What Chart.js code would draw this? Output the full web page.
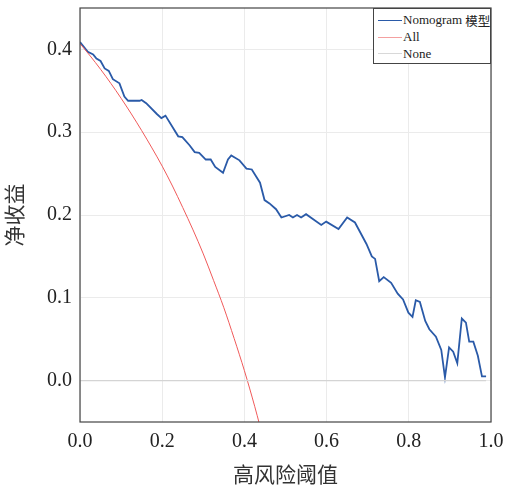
<!DOCTYPE html>
<html>
<head>
<meta charset="utf-8">
<script src="https://cdn.jsdelivr.net/npm/chart.js@4/dist/chart.umd.min.js"></script>
<style>
html,body{margin:0;padding:0;background:#fff;}
#wrap{position:relative;width:505px;height:489px;}
#legend{position:absolute;background:#fff;border:1px solid #444;box-sizing:border-box;
  font-family:'Liberation Serif','Noto Sans CJK SC',serif;font-size:13px;color:#222;padding:3px 0 0 4px;}
.row{display:flex;align-items:center;height:16.7px;white-space:nowrap;}
.sw{display:inline-block;flex-shrink:0;width:24px;height:0;margin-right:1px;}
.cjk{font-family:'Noto Sans CJK SC',sans-serif;font-size:12.5px;margin-left:3px;}
</style>
</head>
<body>
<div id="wrap">
<canvas id="c" width="505" height="489"></canvas>
<div id="legend"></div>
</div>
<script>
// ---- data ----
const nomoThreshold = [0.000,0.019,0.032,0.040,0.050,0.060,0.070,0.080,0.096,0.108,0.117,0.145,0.150,0.161,0.187,0.198,0.208,0.239,0.249,0.267,0.279,0.290,0.306,0.318,0.329,0.348,0.360,0.368,0.388,0.405,0.418,0.438,0.449,0.461,0.477,0.490,0.509,0.518,0.528,0.538,0.550,0.587,0.599,0.629,0.650,0.669,0.697,0.710,0.718,0.728,0.739,0.757,0.773,0.786,0.799,0.809,0.817,0.827,0.840,0.850,0.866,0.879,0.888,0.898,0.908,0.918,0.929,0.939,0.947,0.957,0.968,0.978,0.988];
const nomoNB = [0.409,0.397,0.394,0.389,0.386,0.377,0.374,0.364,0.359,0.343,0.338,0.338,0.339,0.335,0.322,0.317,0.320,0.295,0.294,0.284,0.276,0.275,0.267,0.267,0.258,0.251,0.267,0.272,0.266,0.256,0.255,0.239,0.218,0.214,0.207,0.197,0.200,0.197,0.200,0.197,0.201,0.188,0.192,0.183,0.197,0.191,0.165,0.150,0.147,0.120,0.125,0.118,0.105,0.098,0.082,0.077,0.097,0.095,0.072,0.062,0.053,0.037,0.004,0.040,0.035,0.021,0.075,0.070,0.047,0.047,0.030,0.005,0.005];
const allThreshold = [0,0.025,0.05,0.075,0.1,0.125,0.15,0.175,0.2,0.225,0.25,0.275,0.3,0.325,0.35,0.375,0.4,0.425,0.45];
const allNB = [0.407,0.392,0.376,0.359,0.341,0.322,0.302,0.281,0.259,0.235,0.209,0.182,0.153,0.121,0.088,0.051,0.012,-0.031,-0.078];
const noneThreshold = [0,0.988];
const noneNB = [0,0];
const xTicks = [0,0.2,0.4,0.6,0.8,1.0];
const yTicks = [0,0.1,0.2,0.3,0.4];
const seriesNames = ['Nomogram模型','All','None'];
const seriesColors = ['#2a5aa8','#f05a5a','#d4d4d4'];
const legendSwatch = ['#2a5aa8','#f4a0a0','#d8d8d8'];

const pts = (xs, ys) => xs.map((x,i)=>({x:x,y:ys[i]}));
const serif = "'Liberation Serif','Noto Sans CJK SC',serif";

const frame = {
  id:'frame',
  afterDraw(chart){
    const a = chart.chartArea, ctx = chart.ctx;
    ctx.save();
    ctx.strokeStyle = '#444'; ctx.lineWidth = 1.2;
    ctx.strokeRect(a.left, a.top, a.right-a.left, a.bottom-a.top);
    ctx.restore();
    const lg = document.getElementById('legend');
    lg.style.left = (a.right - 118) + 'px';
    lg.style.top = a.top + 'px';
    lg.style.width = '118px';
    lg.style.height = '56px';
  }
};

const chart = new Chart(document.getElementById('c'), {
  type:'scatter',
  data:{datasets:[
    {label:seriesNames[2], data:pts(noneThreshold,noneNB), showLine:true, borderColor:seriesColors[2], borderWidth:1.2, pointRadius:0},
    {label:seriesNames[1], data:pts(allThreshold,allNB), showLine:true, borderColor:seriesColors[1], borderWidth:1, pointRadius:0, cubicInterpolationMode:'monotone'},
    {label:seriesNames[0], data:pts(nomoThreshold,nomoNB), showLine:true, borderColor:seriesColors[0], borderWidth:1.8, pointRadius:0}
  ]},
  options:{
    responsive:false, animation:false, devicePixelRatio:1,
    layout:{padding:{left:0,right:14,top:8,bottom:0}},
    plugins:{legend:{display:false}, tooltip:{enabled:false}},
    scales:{
      x:{type:'linear', min:0, max:1,
        afterBuildTicks(s){ s.ticks = xTicks.map(v=>({value:v})); },
        afterFit(s){ s.height = 67; s.paddingLeft = 0; s.paddingRight = 0; },
        grid:{color:'#ebebeb', lineWidth:1, drawTicks:false},
        border:{display:false},
        ticks:{padding:8, color:'#222', font:{family:serif,size:20}, callback:v=>Number(v).toFixed(1), maxRotation:0},
        title:{display:true, text:'高风险阈值', color:'#333', font:{family:serif,size:21}, padding:{top:0,bottom:0}}
      },
      y:{type:'linear', min:-0.05, max:0.45,
        afterBuildTicks(s){ s.ticks = yTicks.map(v=>({value:v})); },
        afterFit(s){ s.width = 80; s.paddingTop = 0; s.paddingBottom = 0; },
        grid:{color:'#ebebeb', lineWidth:1, drawTicks:false},
        border:{display:false},
        ticks:{padding:8, color:'#222', font:{family:serif,size:20}, callback:v=>Number(v).toFixed(1)},
        title:{display:true, text:'净收益', color:'#333', font:{family:serif,size:21}, padding:{top:4,bottom:0}}
      }
    }
  },
  plugins:[frame]
});

// HTML legend
const lg = document.getElementById('legend');
[0,1,2].forEach(i=>{
  const r = document.createElement('div'); r.className='row';
  const s = document.createElement('span'); s.className='sw';
  s.style.borderTop = (i===0?'1.8px':'1.4px') + ' solid ' + legendSwatch[i];
  r.appendChild(s);
  const name = seriesNames[i];
  const m = name.match(/^([A-Za-z ]+)(.*)$/);
  const t = document.createElement('span'); t.textContent = m ? m[1] : name; r.appendChild(t);
  if (m && m[2]) { const c = document.createElement('span'); c.className='cjk'; c.textContent = m[2]; r.appendChild(c); }
  lg.appendChild(r);
});
</script>
</body>
</html>
